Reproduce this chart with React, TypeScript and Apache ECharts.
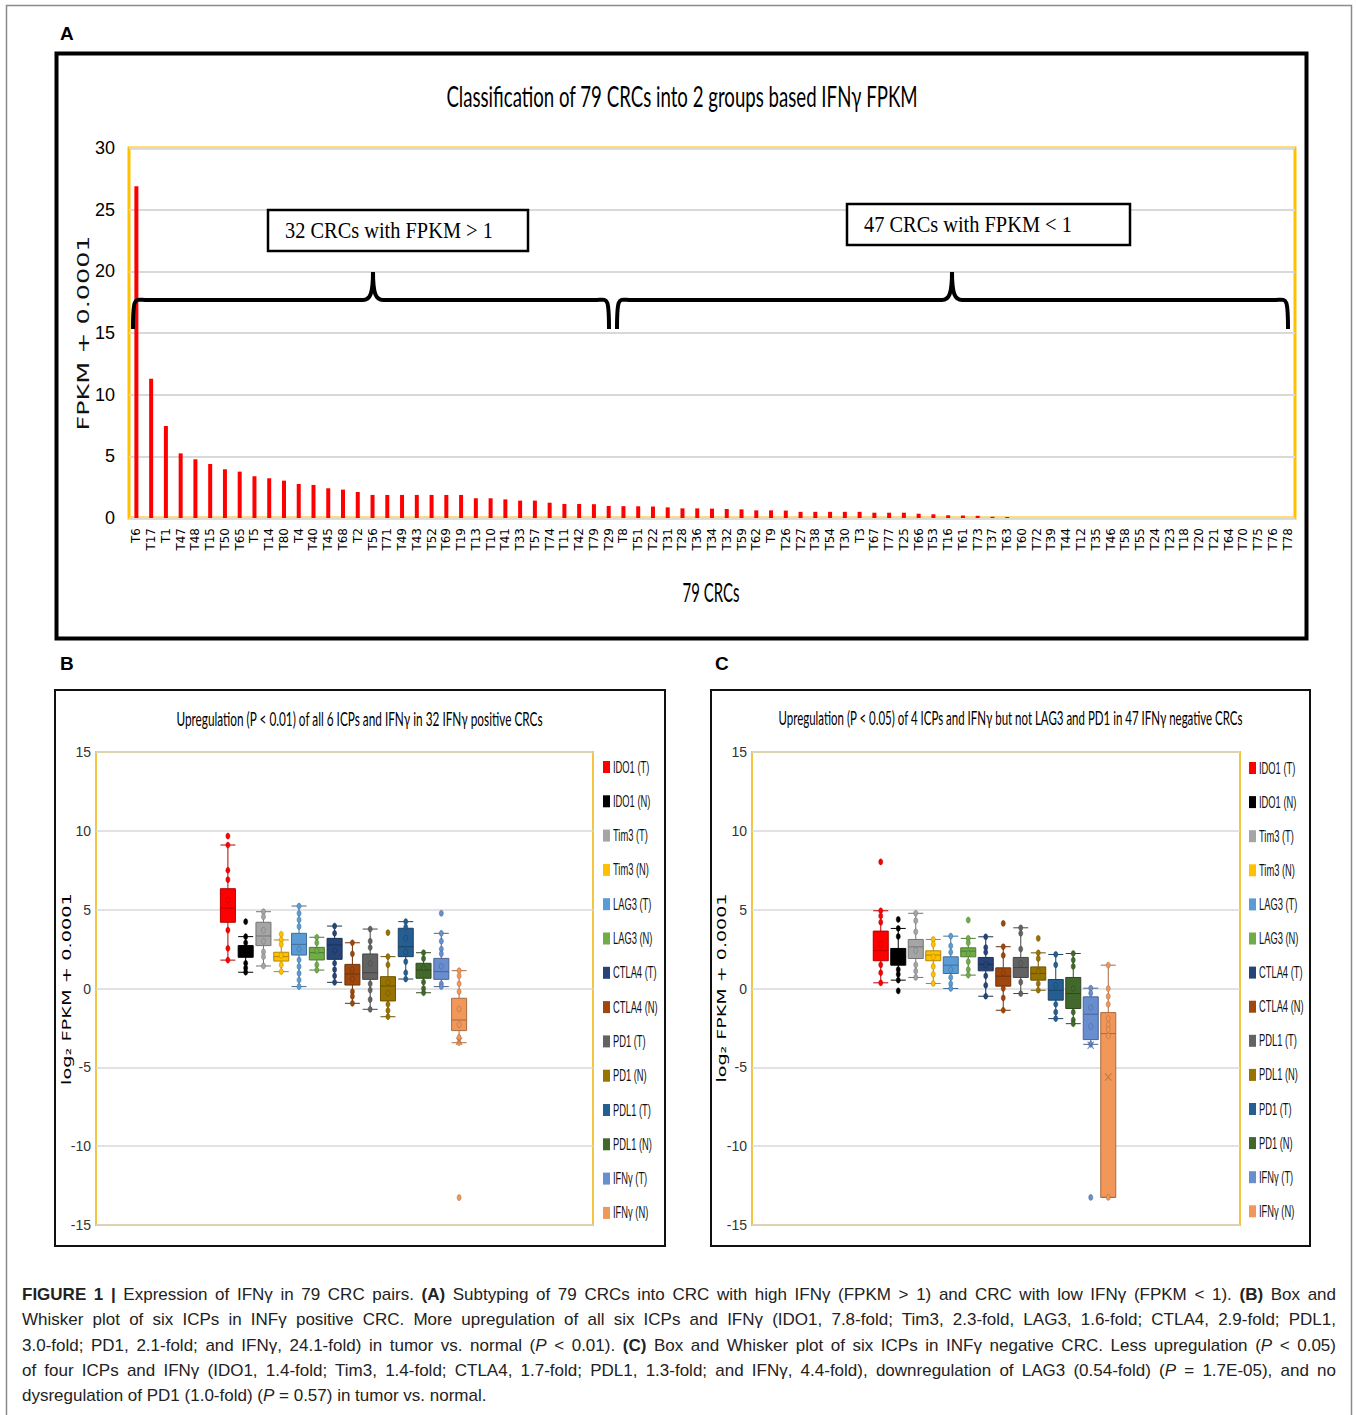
import React, { useEffect, useRef } from "react";
import * as echarts from "echarts";

// ---------- DATA ----------
const crcNames = [
  "T6", "T17", "T1", "T47", "T48", "T15", "T50", "T65", "T5", "T14", "T80", "T4", "T40", "T45", "T68", "T2",
  "T56", "T71", "T49", "T43", "T52", "T69", "T19", "T13", "T10", "T41", "T33", "T57", "T74", "T11", "T42", "T79",
  "T29", "T8", "T51", "T22", "T31", "T28", "T36", "T34", "T32", "T59", "T62", "T9", "T26", "T27", "T38", "T54",
  "T30", "T3", "T67", "T77", "T25", "T66", "T53", "T16", "T61", "T73", "T37", "T63", "T60", "T72", "T39", "T44",
  "T12", "T35", "T46", "T58", "T55", "T24", "T23", "T18", "T20", "T21", "T64", "T70", "T75", "T76", "T78",
];
const crcFpkm = [
  26.9, 11.3, 7.46, 5.24, 4.76, 4.38, 3.95, 3.76, 3.38, 3.22, 3.03, 2.76, 2.68, 2.41, 2.3, 2.11,
  1.87, 1.87, 1.87, 1.87, 1.87, 1.87, 1.87, 1.6, 1.6, 1.51, 1.41, 1.41, 1.24, 1.14, 1.14, 1.12,
  0.98, 0.96, 0.95, 0.93, 0.86, 0.78, 0.78, 0.76, 0.73, 0.7, 0.62, 0.62, 0.6, 0.5, 0.5, 0.5,
  0.5, 0.5, 0.43, 0.43, 0.43, 0.35, 0.3, 0.22, 0.2, 0.18, 0.1, 0.08, 0.0001, 0.0001, 0.0001, 0.0001,
  0.0001, 0.0001, 0.0001, 0.0001, 0.0001, 0.0001, 0.0001, 0.0001, 0.0001, 0.0001, 0.0001, 0.0001, 0.0001, 0.0001, 0.0001,
];

const icpNamesB = [
  "IDO1 (T)", "IDO1 (N)", "Tim3 (T)", "Tim3 (N)", "LAG3 (T)", "LAG3 (N)", "CTLA4 (T)",
  "CTLA4 (N)", "PD1 (T)", "PD1 (N)", "PDL1 (T)", "PDL1 (N)", "IFNγ (T)", "IFNγ (N)",
];
const icpNamesC = [
  "IDO1 (T)", "IDO1 (N)", "Tim3 (T)", "Tim3 (N)", "LAG3 (T)", "LAG3 (N)", "CTLA4 (T)",
  "CTLA4 (N)", "PDL1 (T)", "PDL1 (N)", "PD1 (T)", "PD1 (N)", "IFNγ (T)", "IFNγ (N)",
];
const icpColors = [
  "#FF0000", "#000000", "#A5A5A5", "#FFC000", "#5B9BD5", "#70AD47", "#264478",
  "#9E480E", "#636363", "#997300", "#255E91", "#43682B", "#698ED0", "#F1975A",
];

// [min, Q1, median, Q3, max]
const boxStatsB = [
  [1.8, 4.2, 5.1, 6.33, 9.1],
  [1.03, 1.98, 2.4, 2.72, 3.29],
  [1.43, 2.72, 3.33, 4.2, 4.87],
  [1.07, 1.74, 2.02, 2.3, 3.08],
  [0.12, 2.12, 2.8, 3.5, 5.23],
  [1.17, 1.81, 2.27, 2.61, 3.25],
  [0.39, 1.85, 2.76, 3.18, 3.96],
  [-0.94, 0.22, 0.92, 1.53, 2.9],
  [-1.32, 0.58, 1.0, 2.19, 3.77],
  [-1.79, -0.79, 0.16, 0.75, 2.02],
  [0.6, 2.02, 2.65, 3.82, 4.24],
  [-0.27, 0.65, 1.17, 1.6, 2.27],
  [0.12, 0.58, 1.07, 1.91, 3.5],
  [-3.44, -2.67, -2.0, -0.62, 1.13],
];
const pointsB = [
  [9.67, 9.1, 7.5, 6.9, 5.6, 3.7, 2.55, 1.8],
  [4.24, 3.29, 2.9, 2.2, 1.6, 1.3, 1.03],
  [4.87, 4.55, 3.7, 3.0, 2.33, 2.02, 1.43],
  [3.44, 3.08, 2.8, 2.1, 1.5, 1.07],
  [5.23, 4.77, 4.35, 3.93, 2.5, 1.81, 1.39, 0.96, 0.54, 0.12],
  [3.25, 2.9, 2.4, 1.5, 1.17],
  [3.96, 3.5, 2.4, 1.6, 1.2, 0.8, 0.39],
  [2.9, 2.2, 1.2, 0.6, -0.2, -0.5, -0.94],
  [3.77, 3.0, 2.6, 1.6, 0.3, -0.1, -0.7, -1.32],
  [3.54, 2.02, 1.5, 0.4, -0.3, -1.0, -1.4, -1.79],
  [4.24, 3.9, 3.2, 2.3, 1.7, 1.0, 0.6],
  [2.27, 1.9, 1.3, 0.4, 0.0, -0.27],
  [4.77, 3.5, 3.0, 2.5, 2.2, 1.4, 0.3, 0.12],
  [1.13, 0.8, 0.3, -0.2, -1.3, -2.3, -3.1, -3.44, -13.26],
];
const boxStatsC = [
  [0.36, 1.76, 2.4, 3.64, 4.93],
  [0.53, 1.48, 2.0, 2.54, 3.81],
  [0.7, 1.9, 2.64, 3.11, 4.77],
  [0.32, 1.76, 2.12, 2.39, 3.11],
  [0.0, 0.95, 1.48, 2.01, 3.32],
  [0.85, 2.01, 2.37, 2.58, 3.18],
  [-0.49, 1.12, 1.54, 1.97, 3.28],
  [-1.38, 0.15, 0.78, 1.31, 2.65],
  [-0.32, 0.7, 1.33, 1.97, 3.85],
  [-0.11, 0.53, 0.95, 1.37, 2.26],
  [-1.91, -0.74, -0.11, 0.57, 2.16],
  [-2.23, -1.27, -0.32, 0.7, 2.22],
  [-3.54, -3.24, -1.63, -0.53, 0.02],
  [-13.25, -13.25, -2.86, -1.53, 1.48],
];
const pointsC = [
  [8.03, 4.93, 4.6, 4.2, 2.8, 1.5, 1.0, 0.36],
  [4.38, 3.81, 3.3, 2.2, 1.2, 0.9, 0.53, -0.15],
  [4.77, 4.3, 3.6, 2.4, 1.5, 1.1, 0.7],
  [3.11, 2.8, 2.0, 1.4, 0.9, 0.32],
  [3.32, 2.7, 2.3, 1.2, 0.7, 0.3, 0.0],
  [4.34, 3.18, 2.9, 2.2, 1.7, 1.2, 0.85],
  [3.28, 2.6, 2.3, 1.5, 0.8, 0.2, -0.49],
  [4.13, 2.65, 2.1, 1.0, 0.0, -0.6, -1.38],
  [3.85, 3.5, 2.5, 1.6, 0.4, -0.32],
  [3.18, 2.26, 1.9, 1.1, 0.3, -0.11],
  [2.16, 1.5, 0.2, -1.0, -1.5, -1.91],
  [2.22, 1.8, 1.4, 0.0, -1.5, -2.0, -2.23],
  [0.02, -0.3, -1.2, -2.4, -3.54, -13.25],
  [1.48, 0.0, -0.5, -1.0, -1.9, -2.3, -2.6, -3.0, -13.25],
];
const meanMarkIndexB = [13];
const meanMarkValueB = [-3.35];
const meanMarkIndexC = [12, 13];
const meanMarkValueC = [-3.6, -5.62];

// ---------- STYLE HELPERS ----------
const NARROW = "'Liberation Sans Narrow','Arial Narrow','Liberation Sans',sans-serif";
const CALIBRI = "Lato,'Open Sans',sans-serif";
const VERD = "'DejaVu Sans',Verdana,sans-serif";
const SERIF = "'Liberation Serif','Times New Roman',serif";
const ARIAL = "'Liberation Sans',Arial,Helvetica,sans-serif";

function shade(hex: string, f: number) {
  const n = parseInt(hex.slice(1), 16);
  const r = Math.round(((n >> 16) & 255) * f);
  const g = Math.round(((n >> 8) & 255) * f);
  const b = Math.round((n & 255) * f);
  return `rgb(${r},${g},${b})`;
}

let ctx: CanvasRenderingContext2D | null = null;
function measure(text: string, font: string) {
  if (!ctx) ctx = document.createElement("canvas").getContext("2d");
  ctx!.font = font;
  return ctx!.measureText(text).width;
}

function fitText(o: {
  text: string; x: number; y: number; width?: number; scale?: number; size: number; family: string;
  align?: string; rotation?: number; weight?: string; color?: string;
}) {
  const weight = o.weight || "normal";
  const align = o.align || "center";
  const sx = o.scale != null ? o.scale : o.width! / measure(o.text, `${weight} ${o.size}px ${o.family}`);
  return {
    type: "text",
    x: o.x,
    y: o.y,
    rotation: o.rotation || 0,
    scaleX: sx,
    z: 10,
    style: {
      text: o.text,
      fontSize: o.size,
      fontFamily: o.family,
      fontWeight: weight,
      fill: o.color || "#000",
      align,
      verticalAlign: "middle",
      textAlign: align,
      textVerticalAlign: "middle",
    },
  };
}

function legendGraphics(names: string[], iconX: number, y0: number, step: number) {
  const out: any[] = [];
  names.forEach((n, i) => {
    const yc = y0 + step * i;
    out.push({ type: "rect", z: 10, shape: { x: iconX, y: yc - 6, width: 7, height: 12 }, style: { fill: icpColors[i] } });
    out.push(fitText({ text: n, x: iconX + 10, y: yc, scale: 0.55, size: 17, family: ARIAL, align: "left", color: "#111" }));
  });
  return out;
}

function braceD(x0: number, x1: number, xm: number) {
  const yEnd = 329, yBar = 300, yTip = 272;
  return `M ${x0} ${yEnd} C ${x0} ${yBar - 6} ${x0 + 2} ${yBar} ${x0 + 14} ${yBar} ` +
    `L ${xm - 10} ${yBar} C ${xm - 3} ${yBar} ${xm} ${yBar - 6} ${xm} ${yTip} ` +
    `C ${xm} ${yBar - 6} ${xm + 3} ${yBar} ${xm + 10} ${yBar} ` +
    `L ${x1 - 14} ${yBar} C ${x1 - 2} ${yBar} ${x1} ${yBar - 6} ${x1} ${yEnd}`;
}

function boxPanel(
  names: string[], stats: number[][], points: number[][], markIdx: number[], markVal: number[],
  panel: string, axisIdx: number,
) {
  const series: any[] = [];
  series.push({
    type: "boxplot",
    name: panel + " box",
    xAxisIndex: axisIdx,
    yAxisIndex: axisIdx,
    boxWidth: [15, 15],
    z: 2,
    data: stats.map((v, i) => ({
      name: names[i],
      value: v,
      itemStyle: { color: icpColors[i], borderColor: shade(icpColors[i], 0.7), borderWidth: 1 },
    })),
  });
  names.forEach((n, i) => {
    series.push({
      type: "scatter",
      name: n,
      xAxisIndex: axisIdx,
      yAxisIndex: axisIdx,
      symbol: "circle",
      symbolSize: [4, 6],
      z: 3,
      itemStyle: { color: icpColors[i], borderColor: shade(icpColors[i], 0.7), borderWidth: 0.5, opacity: 1 },
      data: points[i].map((v) => [i, v]),
    });
  });
  series.push({
    type: "scatter",
    name: panel + " mean",
    xAxisIndex: axisIdx,
    yAxisIndex: axisIdx,
    symbol: "path://M0,1L1,0L5,4L9,0L10,1L6,5L10,9L9,10L5,6L1,10L0,9L4,5Z",
    symbolSize: [7, 8],
    z: 4,
    data: markIdx.map((k, j) => ({ value: [k, markVal[j]], itemStyle: { color: shade(icpColors[k], 0.75) } })),
  });
  return series;
}

const captionLines: React.ReactNode[] = [
  <>
    <b>FIGURE 1 |</b> Expression of IFNγ in 79 CRC pairs. <b>(A)</b> Subtyping of 79 CRCs into CRC with high IFNγ (FPKM &gt; 1) and CRC with low IFNγ (FPKM &lt; 1). <b>(B)</b> Box and
  </>,
  <>
    Whisker plot of six ICPs in INFγ positive CRC. More upregulation of all six ICPs and IFNγ (IDO1, 7.8-fold; Tim3, 2.3-fold, LAG3, 1.6-fold; CTLA4, 2.9-fold; PDL1,
  </>,
  <>
    3.0-fold; PD1, 2.1-fold; and IFNγ, 24.1-fold) in tumor vs. normal (<i>P</i> &lt; 0.01). <b>(C)</b> Box and Whisker plot of six ICPs in INFγ negative CRC. Less upregulation (<i>P</i> &lt; 0.05)
  </>,
  <>
    of four ICPs and IFNγ (IDO1, 1.4-fold; Tim3, 1.4-fold; CTLA4, 1.7-fold; PDL1, 1.3-fold; and IFNγ, 4.4-fold), downregulation of LAG3 (0.54-fold) (<i>P</i> = 1.7E-05), and no
  </>,
  <>
    dysregulation of PD1 (1.0-fold) (<i>P</i> = 0.57) in tumor vs. normal.
  </>,
];

export default function App() {
  const ref = useRef<HTMLDivElement>(null);

  useEffect(() => {
    if (!ref.current) return;
    echarts.graphic.registerShape("braceLeft", echarts.graphic.extendPath(braceD(133, 609, 373), {}));
    echarts.graphic.registerShape("braceRight", echarts.graphic.extendPath(braceD(617, 1288, 952), {}));
    const chart = echarts.init(ref.current, undefined, { renderer: "svg" });

    const hiddenCat = (grid: number, data: string[]) => ({
      type: "category", gridIndex: grid, data, show: false,
    });
    const boxY = (grid: number, show: boolean) => ({
      type: "value", gridIndex: grid, min: -15, max: 15, interval: 5, show,
      axisLine: { show: false }, axisTick: { show: false },
      axisLabel: { show, fontFamily: NARROW, fontSize: 14, color: "#333", margin: 5 },
      splitLine: { show, lineStyle: { color: "#D9D9D9", width: 1.5 } },
    });

    const graphics: any[] = [
      { type: "rect", z: 0, shape: { x: 6.5, y: 5.5, width: 1345, height: 1440 }, style: { fill: "none", stroke: "#8a8a8a", lineWidth: 1.5 } },
      { type: "rect", z: 5, shape: { x: 56.5, y: 53.5, width: 1250, height: 585 }, style: { fill: "none", stroke: "#000", lineWidth: 4 } },
      { type: "rect", z: 5, shape: { x: 55, y: 690, width: 610, height: 556 }, style: { fill: "none", stroke: "#111", lineWidth: 2 } },
      { type: "rect", z: 5, shape: { x: 711, y: 690, width: 599, height: 556 }, style: { fill: "none", stroke: "#111", lineWidth: 2 } },
      { type: "text", x: 60, y: 33, z: 10, style: { text: "A", fontSize: 19, fontWeight: "bold", fontFamily: ARIAL, fill: "#000", verticalAlign: "middle", textVerticalAlign: "middle" } },
      { type: "text", x: 60, y: 663, z: 10, style: { text: "B", fontSize: 19, fontWeight: "bold", fontFamily: ARIAL, fill: "#000", verticalAlign: "middle", textVerticalAlign: "middle" } },
      { type: "text", x: 715, y: 663, z: 10, style: { text: "C", fontSize: 19, fontWeight: "bold", fontFamily: ARIAL, fill: "#000", verticalAlign: "middle", textVerticalAlign: "middle" } },
      fitText({ text: "Classification of 79 CRCs into 2 groups based IFNγ FPKM", x: 682, y: 96, width: 472, size: 29, family: CALIBRI }),
      fitText({ text: "79 CRCs", x: 711, y: 592, width: 57, size: 26, family: CALIBRI }),
      fitText({ text: "FPKM + 0.0001", x: 83, y: 333, width: 195, size: 16, family: VERD, rotation: Math.PI / 2, color: "#111" }),
      { type: "rect", z: 6, shape: { x: 268, y: 210, width: 260, height: 41 }, style: { fill: "#fff", stroke: "#000", lineWidth: 2.5 } },
      { type: "rect", z: 6, shape: { x: 847, y: 204, width: 283, height: 41 }, style: { fill: "#fff", stroke: "#000", lineWidth: 2.5 } },
      fitText({ text: "32 CRCs with FPKM > 1", x: 285, y: 231, width: 208, size: 23, family: SERIF, align: "left" }),
      fitText({ text: "47 CRCs with FPKM < 1", x: 864, y: 225, width: 208, size: 23, family: SERIF, align: "left" }),
      { type: "braceLeft", z: 7, style: { fill: "none", stroke: "#000", lineWidth: 4 } },
      { type: "braceRight", z: 7, style: { fill: "none", stroke: "#000", lineWidth: 4 } },
      fitText({ text: "Upregulation (P < 0.01) of all 6 ICPs and IFNγ in 32 IFNγ positive CRCs", x: 359.5, y: 718, width: 367, size: 19, family: CALIBRI }),
      fitText({ text: "Upregulation (P < 0.05) of 4 ICPs and IFNγ but not LAG3 and PD1 in 47 IFNγ negative CRCs", x: 1010.5, y: 718, width: 465, size: 19, family: CALIBRI }),
      fitText({ text: "log₂ FPKM + 0.0001", x: 67, y: 989, width: 192, size: 13, family: VERD, rotation: Math.PI / 2 }),
      fitText({ text: "log₂ FPKM + 0.0001", x: 722, y: 988, width: 189, size: 13, family: VERD, rotation: Math.PI / 2 }),
      ...legendGraphics(icpNamesB, 603, 767, 34.3),
      ...legendGraphics(icpNamesC, 1249, 768, 34.1),
    ];

    const option: any = {
      animation: false,
      backgroundColor: "#fff",
      grid: [
        { left: 129, top: 148, width: 1166, height: 370, show: true, borderColor: "#FFC000", borderWidth: 3, backgroundColor: "transparent" },
        { left: 96, top: 752, width: 497, height: 473, show: true, borderColor: "#F4C542", borderWidth: 2, backgroundColor: "transparent" },
        { left: 219, top: 752, width: 249, height: 473 },
        { left: 752, top: 752, width: 488, height: 473, show: true, borderColor: "#F4C542", borderWidth: 2, backgroundColor: "transparent" },
        { left: 872, top: 752, width: 245, height: 473 },
      ],
      xAxis: [
        {
          type: "category", gridIndex: 0, data: crcNames,
          axisLine: { show: false }, axisTick: { show: false },
          axisLabel: { interval: 0, rotate: 90, fontFamily: VERD, fontSize: 12, color: "#000", margin: 10 },
        },
        hiddenCat(1, [""]),
        hiddenCat(2, icpNamesB),
        hiddenCat(3, [""]),
        hiddenCat(4, icpNamesC),
      ],
      yAxis: [
        {
          type: "value", gridIndex: 0, min: 0, max: 30, interval: 5,
          axisLine: { show: false }, axisTick: { show: false },
          axisLabel: { fontFamily: NARROW, fontSize: 18, color: "#000", margin: 14 },
          splitLine: { lineStyle: { color: "#D9D9D9", width: 2 } },
        },
        boxY(1, true),
        boxY(2, false),
        boxY(3, true),
        boxY(4, false),
      ],
      series: [
        {
          type: "bar", name: "FPKM + 0.0001", xAxisIndex: 0, yAxisIndex: 0, data: crcFpkm,
          barWidth: 4, itemStyle: { color: "#FF0000" }, z: 3,
        },
        ...boxPanel(icpNamesB, boxStatsB, pointsB, meanMarkIndexB, meanMarkValueB, "B", 2),
        ...boxPanel(icpNamesC, boxStatsC, pointsC, meanMarkIndexC, meanMarkValueC, "C", 4),
      ],
      graphic: { elements: graphics },
    };

    chart.setOption(option);
    return () => chart.dispose();
  }, []);

  return (
    <div style={{ position: "absolute", left: 0, top: 0, width: 1357, height: 1415, background: "#fff" }}>
      <div ref={ref} style={{ position: "absolute", left: 0, top: 0, width: 1357, height: 1415 }} />
      <div
        style={{
          position: "absolute", left: 22, top: 1282, width: 1314,
          fontFamily: ARIAL, fontSize: 17, lineHeight: "25.3px", color: "#222",
        }}
      >
        {captionLines.map((l, i) => (
          <div
            key={i}
            style={{
              whiteSpace: "nowrap",
              textAlign: i < 4 ? "justify" : "left",
              textAlignLast: i < 4 ? "justify" : "left",
            } as any}
          >
            {l}
          </div>
        ))}
      </div>
    </div>
  );
}
